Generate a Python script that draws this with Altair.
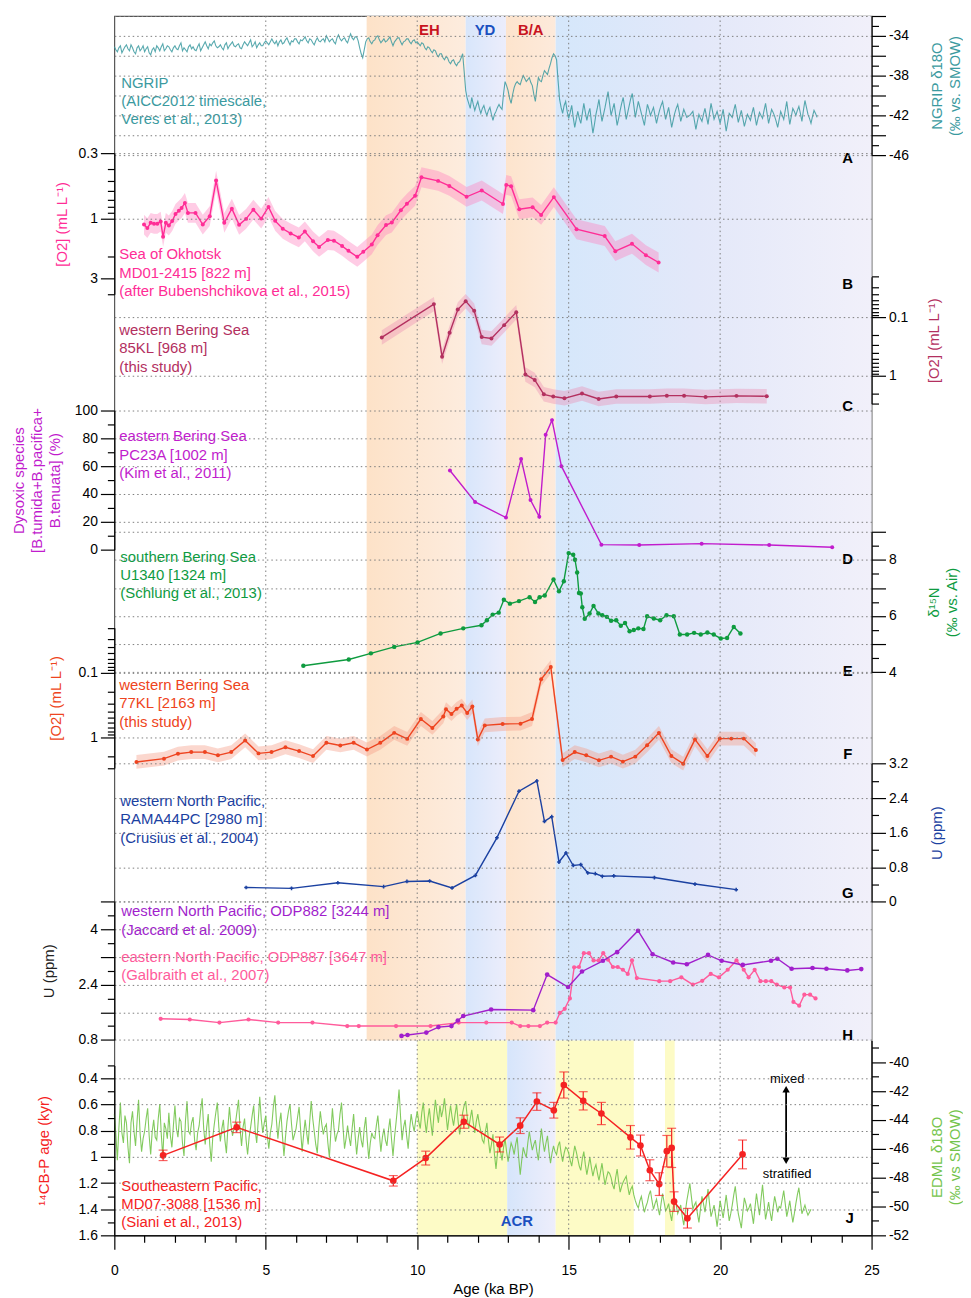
import json
import altair as alt
import pandas as pd

FONT = "Liberation Sans"
W, H = 762, 1227

# ---------------- data ----------------
# NGRIP d18O: values at 0.0, 0.1, ... ka and at the half steps 0.05, 0.15, ... ka
ngrip_step = 0.1
ngrip_d18o = [
    -35.1,-35.6,-35.0,-35.4,-34.9,-35.5,-35.2,-35.8,-35.0,-35.3,
    -35.6,-35.1,-35.9,-35.2,-35.0,-35.5,-34.8,-35.3,-35.1,-35.6,
    -35.0,-35.4,-34.7,-35.2,-35.6,-34.9,-35.1,-35.5,-34.8,-35.2,
    -34.6,-35.3,-35.0,-34.5,-35.2,-34.9,-35.4,-34.7,-35.0,-34.6,
    -35.1,-34.8,-35.3,-34.6,-35.0,-34.4,-34.9,-35.2,-34.7,-35.0,
    -34.5,-34.9,-34.3,-34.8,-35.0,-34.4,-34.7,-34.2,-34.9,-34.6,
    -34.3,-34.8,-34.5,-34.1,-34.7,-34.4,-34.9,-34.2,-34.6,-34.3,
    -34.0,-34.6,-34.3,-34.8,-33.9,-34.5,-34.2,-34.7,-33.8,-34.4,
    -34.1,-35.2,-36.2,-34.6,-34.2,-34.8,-34.4,-34.0,-34.7,-34.3,
    -34.5,-34.1,-35.0,-34.4,-34.2,-34.9,-34.5,-34.3,-34.8,-34.4,
    -34.6,-35.0,-34.8,-35.4,-35.2,-35.7,-35.5,-36.1,-35.8,-36.4,
    -36.2,-36.8,-36.4,-37.0,-36.6,-35.8,-39.5,-40.8,-40.2,-41.5,
    -40.6,-41.8,-41.0,-42.0,-41.2,-42.5,-41.6,-40.9,-41.4,-38.6,
    -39.5,-40.8,-39.2,-38.6,-38.9,-38.0,-38.6,-38.2,-39.0,-40.6,
    -38.2,-38.6,-37.5,-37.9,-36.8,-35.8,-36.4,-40.4,-41.8,-40.6,
    -42.3,-41.0,-43.2,-41.6,-42.8,-40.8,-42.5,-41.3,-43.8,-41.9,
    -40.4,-42.6,-41.2,-39.6,-42.0,-40.8,-43.0,-41.5,-40.2,-42.4,
    -41.0,-39.8,-42.2,-40.6,-41.8,-43.0,-40.9,-42.0,-41.2,-42.8,
    -41.5,-40.6,-42.4,-41.2,-43.2,-41.8,-40.9,-42.6,-41.4,-42.2,
    -42.0,-41.6,-43.4,-41.9,-42.6,-41.3,-42.9,-40.8,-42.4,-41.6,
    -42.8,-41.4,-43.6,-41.8,-42.2,-40.9,-42.7,-41.5,-43.1,-41.9,
    -42.5,-41.2,-43.0,-41.7,-42.3,-40.8,-42.8,-41.4,-42.1,-43.2,
    -41.6,-42.4,-40.6,-42.9,-41.3,-42.0,-41.1,-42.6,-40.5,-41.9,
    -42.8,-41.5,-42.2,
]
ngrip_half = [
    -35.4,-35.2,-35.7,-35.1,-35.3,-34.9,-35.6,-35.2,-35.5,-35.0,
    -35.3,-35.7,-35.4,-35.6,-35.2,-35.1,-35.5,-35.0,-35.4,-35.2,
    -35.3,-35.0,-35.5,-35.4,-35.1,-35.3,-35.4,-35.1,-35.5,-34.9,
    -35.0,-34.8,-34.7,-35.0,-35.1,-35.2,-34.9,-35.3,-34.8,-35.0,
    -34.9,-35.2,-34.9,-34.8,-34.7,-35.1,-34.6,-34.9,-35.0,-34.7,
    -34.7,-34.6,-34.6,-34.5,-34.6,-34.8,-34.4,-34.6,-34.5,-34.3,
    -34.6,-34.4,-34.3,-34.5,-34.3,-34.7,-34.5,-34.5,-34.4,-34.6,
    -34.3,-34.4,-34.6,-34.2,-34.3,-34.3,-34.5,-34.2,-34.2,-34.1,
    -34.5,-35.8,-35.4,-34.3,-34.6,-34.5,-34.1,-34.4,-34.5,-34.6,
    -34.3,-34.6,-34.6,-34.2,-34.6,-34.6,-34.3,-34.6,-34.5,-34.7,
    -34.8,-34.7,-35.2,-35.1,-35.5,-35.4,-35.9,-35.8,-36.2,-36.1,
    -36.6,-36.5,-36.8,-36.7,-36.2,-37.6,-40.3,-41.3,-40.9,-41.0,
    -41.3,-41.3,-41.6,-41.5,-41.9,-41.9,-41.2,-41.2,-39.8,-39.0,
    -40.3,-39.9,-38.8,-38.8,-38.4,-38.3,-38.4,-38.7,-39.9,-39.3,
    -38.5,-38.0,-37.7,-37.3,-36.2,-36.0,-38.5,-41.2,-41.0,-41.6,
    -41.7,-42.2,-42.4,-42.3,-41.8,-41.7,-41.8,-42.6,-42.9,-41.2,
    -41.6,-41.9,-40.4,-40.8,-41.4,-41.9,-42.3,-40.8,-41.3,-41.7,
    -40.3,-41.0,-41.4,-41.2,-42.4,-41.9,-41.4,-41.6,-42.0,-42.1,
    -41.0,-41.5,-41.8,-42.2,-42.5,-41.3,-41.7,-42.0,-41.8,-42.1,
    -41.8,-42.5,-42.6,-42.3,-41.9,-42.1,-41.8,-41.6,-42.0,-42.2,
    -42.1,-42.5,-42.7,-42.0,-41.5,-41.8,-42.1,-42.3,-42.5,-42.2,
    -41.8,-42.1,-42.3,-42.0,-41.5,-41.8,-42.1,-41.7,-42.6,-42.4,
    -42.0,-41.5,-41.8,-42.1,-41.6,-41.5,-41.8,-41.5,-41.2,-42.3,
    -42.1,-41.8,
]

# EDML d18O: values at 0.0, 0.1, ... ka and at the half steps
edml_step = 0.1
edml_d18o = [
    -43.6,-46.8,-42.8,-45.6,-44.2,-47.0,-43.4,-45.8,-42.6,-46.2,
    -44.8,-43.2,-46.4,-44.0,-45.4,-42.9,-46.6,-44.6,-43.5,-45.9,
    -43.0,-45.2,-44.1,-46.5,-42.7,-45.0,-43.8,-46.1,-44.4,-42.5,
    -45.7,-43.6,-46.9,-44.3,-42.8,-45.5,-44.0,-46.3,-43.1,-45.1,
    -44.2,-42.6,-45.8,-43.9,-46.4,-44.5,-43.0,-45.6,-42.4,-44.9,
    -43.7,-46.0,-44.3,-42.3,-45.3,-43.5,-46.5,-44.1,-42.9,-45.4,
    -44.6,-43.1,-46.2,-44.0,-45.7,-42.7,-44.8,-46.3,-43.4,-45.0,
    -44.3,-46.6,-43.2,-45.5,-44.7,-42.8,-46.0,-44.4,-45.8,-43.6,
    -46.4,-44.5,-45.9,-43.8,-46.7,-44.9,-45.3,-43.7,-46.2,-44.6,
    -45.8,-43.9,-46.5,-44.2,-41.9,-45.4,-44.0,-46.0,-43.6,-44.8,
    -43.4,-44.6,-42.8,-44.9,-43.2,-45.1,-42.6,-44.2,-43.8,-42.5,
    -44.7,-43.0,-44.4,-42.9,-45.0,-43.5,-42.7,-44.6,-43.3,-44.9,
    -43.6,-44.8,-45.6,-44.2,-46.3,-45.0,-47.4,-45.5,-46.8,-45.3,
    -46.9,-45.6,-46.4,-45.2,-47.8,-45.9,-46.6,-44.8,-46.1,-45.4,
    -46.8,-44.6,-46.2,-45.1,-47.0,-45.8,-46.4,-45.5,-46.9,-45.9,
    -46.3,-47.2,-45.8,-46.7,-47.5,-46.2,-47.8,-46.6,-47.9,-47.1,
    -48.2,-47.0,-48.5,-47.6,-48.0,-48.8,-47.4,-49.0,-48.3,-47.9,
    -49.2,-48.6,-49.6,-50.1,-49.3,-50.4,-49.7,-48.9,-50.2,-49.5,
    -50.6,-49.1,-50.3,-49.8,-51.0,-49.4,-50.5,-49.9,-51.3,-49.6,
    -48.4,-50.2,-49.7,-51.1,-49.3,-50.4,-48.8,-50.7,-49.9,-51.4,
    -49.6,-50.8,-49.2,-51.0,-49.9,-48.6,-50.5,-51.5,-49.4,-50.3,
    -49.8,-51.2,-49.1,-50.6,-48.5,-50.9,-49.7,-51.0,-49.3,-50.4,
    -50.1,-48.9,-50.7,-49.6,-51.1,-49.8,-48.7,-50.5,-49.9,-50.6,
    -50.2,
]
edml_half = [
    -45.0,-44.6,-44.9,-43.7,-45.9,-44.2,-44.8,-44.1,-44.9,-45.3,
    -43.9,-45.1,-44.8,-45.2,-43.9,-45.0,-44.2,-45.3,-45.1,-44.4,
    -44.6,-43.9,-45.6,-44.0,-44.8,-44.2,-45.4,-44.9,-43.3,-44.6,
    -44.5,-45.7,-45.2,-43.5,-44.5,-44.6,-45.4,-44.5,-44.3,-44.6,
    -43.4,-44.6,-44.5,-45.4,-45.2,-43.7,-44.7,-44.1,-43.9,-44.2,
    -45.1,-44.9,-43.1,-44.0,-44.2,-45.1,-45.2,-43.4,-44.3,-45.0,
    -43.8,-44.7,-45.0,-44.9,-44.1,-43.9,-45.7,-44.6,-44.3,-44.5,
    -45.6,-44.8,-44.5,-45.0,-43.6,-44.5,-45.3,-45.2,-44.6,-45.1,
    -45.3,-45.4,-44.6,-45.4,-45.6,-45.2,-44.4,-45.0,-45.2,-45.4,
    -44.7,-45.3,-45.2,-43.1,-43.8,-44.5,-45.1,-44.6,-44.3,-44.0,
    -44.1,-43.5,-44.0,-43.9,-44.2,-43.7,-43.5,-43.0,-43.3,-43.6,
    -43.8,-43.8,-43.6,-44.1,-44.3,-43.0,-43.8,-43.9,-44.2,-44.1,
    -44.3,-45.4,-44.8,-45.4,-45.7,-46.4,-46.3,-46.2,-45.9,-46.2,
    -46.2,-45.9,-45.7,-46.6,-46.8,-46.3,-45.6,-45.5,-45.7,-46.2,
    -45.6,-45.5,-45.6,-46.2,-46.3,-46.2,-45.8,-46.3,-46.3,-46.0,
    -46.8,-46.5,-46.2,-47.2,-46.7,-47.1,-47.2,-47.3,-47.4,-47.7,
    -47.6,-47.8,-48.0,-47.7,-48.5,-48.0,-48.3,-48.6,-48.1,-48.6,
    -48.8,-49.2,-49.9,-49.6,-49.9,-50.0,-49.2,-49.6,-49.8,-50.1,
    -49.8,-49.7,-50.1,-50.5,-50.1,-49.9,-50.2,-50.7,-50.4,-49.0,
    -49.3,-49.9,-50.5,-50.2,-49.8,-49.6,-49.8,-50.3,-50.6,-50.5,
    -50.2,-50.0,-50.1,-50.5,-49.2,-49.6,-51.0,-50.4,-49.8,-50.1,
    -50.5,-50.1,-49.9,-49.5,-49.7,-50.3,-50.4,-50.1,-49.8,-50.0,
    -49.5,-49.8,-50.2,-50.4,-50.5,-49.2,-49.6,-50.2,-50.3,-50.4,
]

okh_age = [0.98,1.09,1.20,1.31,1.42,1.53,1.61,1.70,1.80,1.91,2.02,2.13,2.22,2.33,2.43,2.68,
           2.92,3.15,3.36,3.63,3.88,4.12,4.35,4.59,4.85,5.09,5.31,5.56,5.82,6.09,6.29,6.56,
           6.76,7.05,7.25,7.52,7.73,8.02,8.22,8.50,8.69,8.97,9.16,9.46,9.66,9.93,10.14,10.69,
           11.06,11.63,12.13,12.83,12.94,13.10,13.37,13.81,14.09,14.51,15.26,16.19,16.54,17.09,
           17.55,17.97]
okh_o2 = [1.11,1.185,1.075,1.095,1.095,1.05,1.39,1.075,1.13,1.04,0.913,0.86,0.818,0.747,0.896,0.896,
          1.11,0.952,0.494,1.075,0.829,1.115,1.0,0.844,0.995,0.803,1.037,1.2,1.307,1.406,1.26,1.51,
          1.675,1.475,1.493,1.645,1.8,2.01,1.83,1.6,1.35,1.12,1.07,0.853,0.757,0.654,0.465,0.497,
          0.545,0.666,0.593,0.76,0.535,0.548,0.838,0.808,0.93,0.67,1.21,1.37,1.81,1.58,
          1.95,2.23]

kl85_age = [8.83,10.55,10.82,11.07,11.34,11.60,11.88,12.13,12.45,12.87,13.27,13.57,13.88,14.18,
            14.49,14.86,15.44,15.99,16.57,17.68,18.24,18.81,19.52,20.54,21.54]
kl85_o2 = [0.219,0.059,0.469,0.182,0.073,0.0525,0.0769,0.216,0.228,0.135,0.081,0.94,1.17,2.06,
           2.25,2.41,2.0,2.47,2.25,2.25,2.17,2.17,2.28,2.19,2.22]

pc23_age = [11.08,11.91,12.93,13.43,13.74,14.03,14.24,14.45,14.76,16.08,17.33,19.39,21.62,23.70]
pc23_pct = [56.9,34.3,23.1,65.2,35.7,23.6,82.6,93.1,60.0,3.6,3.3,4.3,3.3,1.7]

u1340_age = [6.24,7.74,8.47,9.24,10.01,10.77,11.52,12.12,12.30,12.49,12.69,12.86,13.06,13.36,
             13.71,13.89,14.04,14.21,14.50,14.68,14.84,15.00,15.15,15.21,15.28,15.34,15.40,15.45,
             15.53,15.69,15.82,15.98,16.11,16.26,16.40,16.57,16.72,16.86,17.01,17.15,17.30,17.47,
             17.59,17.81,18.02,18.23,18.47,18.67,18.91,19.14,19.36,19.58,19.79,20.02,20.23,20.45,
             20.67]
u1340_d15n = [4.23,4.45,4.67,4.90,5.06,5.38,5.56,5.67,5.85,6.05,6.12,6.58,6.44,6.53,
              6.67,6.50,6.67,6.73,7.30,6.88,7.24,8.24,8.18,8.00,7.55,6.82,6.80,6.31,
              5.90,6.09,6.36,6.09,6.03,5.97,5.83,5.85,5.65,5.75,5.46,5.50,5.56,5.54,
              5.99,5.91,5.85,6.03,5.99,5.34,5.34,5.40,5.34,5.41,5.34,5.20,5.22,5.61,
              5.38]

kl77_age = [0.73,1.64,2.10,2.54,2.99,3.42,3.86,4.32,4.76,5.19,5.65,6.10,6.56,7.00,7.46,7.90,
            8.34,8.78,9.24,9.67,10.12,10.50,10.86,10.95,11.13,11.30,11.47,11.65,11.82,12.00,
            12.23,12.82,13.41,13.79,14.09,14.41,14.80,15.20,15.58,16.00,16.40,16.79,17.20,
            17.59,17.98,18.39,18.78,19.17,19.58,19.99,20.37,20.78,21.18]
kl77_o2 = [2.42,2.15,1.80,1.70,1.70,1.91,1.70,1.12,1.78,1.70,1.43,1.64,1.96,1.22,1.34,1.22,
           1.55,1.22,0.855,1.06,0.521,0.717,0.475,0.366,0.436,0.362,0.322,0.420,0.333,1.08,
           0.654,0.622,0.615,0.521,0.126,0.081,2.26,1.70,1.91,2.28,2.00,2.39,2.00,
           1.33,0.855,1.96,2.57,1.08,1.96,1.05,1.05,1.05,1.58]

rama_age = [4.35,5.85,7.38,8.89,9.66,10.41,11.15,11.92,12.63,13.36,13.95,14.20,14.44,14.68,
            14.91,15.15,15.40,15.63,15.88,16.11,16.49,17.83,19.17,20.53]
rama_u = [0.33,0.31,0.44,0.35,0.47,0.48,0.32,0.61,1.48,2.56,2.80,1.86,1.97,0.92,
          1.13,0.84,0.86,0.67,0.65,0.59,0.60,0.56,0.41,0.28]

odp882_age = [9.48,9.68,10.30,10.70,11.13,11.34,11.52,12.44,13.83,14.29,14.98,15.44,16.13,16.60,
              17.29,17.77,18.45,18.90,19.60,20.05,20.75,21.68,21.89,22.36,23.05,23.51,24.20,24.66]
odp882_u = [0.915,0.94,1.01,1.17,1.20,1.36,1.49,1.68,1.66,2.69,2.33,2.78,3.09,3.34,
            3.96,3.28,3.04,2.99,3.26,3.09,2.97,3.09,3.15,2.86,2.88,2.86,2.81,2.85]

odp887_age = [1.53,2.49,3.47,4.43,5.41,6.54,7.69,8.07,9.30,10.44,11.37,12.28,13.12,13.40,13.67,
              14.05,14.29,14.57,14.71,14.87,15.04,15.18,15.34,15.50,15.67,15.82,15.99,16.14,16.30,
              16.46,16.62,16.79,16.95,17.09,17.25,17.99,18.35,18.72,19.10,19.41,19.69,19.96,20.25,
              20.54,20.78,20.94,21.14,21.33,21.51,21.69,21.87,22.12,22.31,22.42,22.61,22.78,22.97,
              23.15]
odp887_u = [1.41,1.39,1.30,1.39,1.30,1.30,1.20,1.20,1.20,1.20,1.30,1.30,1.30,1.20,1.20,
            1.20,1.30,1.30,1.58,1.70,2.00,2.90,2.91,3.31,3.31,3.10,3.10,3.31,3.12,
            2.91,2.91,2.83,2.71,3.10,2.59,2.50,2.50,2.61,2.40,2.51,2.71,2.61,2.83,
            3.10,2.83,2.61,2.83,2.50,2.50,2.50,2.40,2.32,2.32,1.90,1.79,2.11,2.11,
            2.00]

md07_age = [1.61,4.04,9.21,10.28,11.54,12.72,13.40,13.95,14.51,14.84,15.48,16.08,17.04,17.37,
            17.68,17.99,18.24,18.40,18.48,18.92,20.74]
md07_bp = [0.988,0.774,1.183,1.009,0.731,0.905,0.761,0.577,0.643,0.450,0.571,0.668,0.850,0.913,
           1.102,1.208,0.956,0.931,1.342,1.469,0.981]
md07_err = [0.04,0.04,0.04,0.053,0.05,0.057,0.06,0.067,0.06,0.10,0.07,0.085,0.09,0.08,
            0.08,0.087,0.12,0.15,0.075,0.075,0.11]

# climate intervals (ka BP)
upper_band_start = [8.33, 11.6, 12.93, 14.57]
upper_band_end = [11.6, 12.93, 14.57, 25.0]
lower_band_start = [10.0, 12.97, 14.57, 18.18]
lower_band_end = [12.97, 14.57, 17.15, 18.5]

# vertical grid positions on the age axis (ka)
age_grid = [5, 10, 15, 20]

# ---------------- styling ----------------
TEAL = "#3b9aa0"; OKH = "#ff2d96"; KL85 = "#b3305f"; PC23 = "#c11ccd"; U1340 = "#0e9b3f"
KL77 = "#ee4420"; RAMA = "#1b41a1"; O882 = "#a11fcc"; O887 = "#ff5b9b"; MD07 = "#f52222"
EDML = "#74c44c"
GRID = dict(gridDash=[1.5, 3], gridColor="#7d7d7d", gridWidth=1)

XS = alt.Scale(domain=[0, 25], nice=False, zero=False)


def inset(vals):
    return "indexof(%s, datum.value) >= 0" % json.dumps(vals)


def make_axis(orient, title, color, ticks, long_set, label_set, grid_set, title_x, title_y=None):
    ax = dict(
        orient=orient, title=title, titleColor=color, values=ticks,
        labelExpr="(%s) ? toString(datum.value) : ''" % inset(label_set),
        tickSize={"condition": {"test": inset(long_set), "value": 14}, "value": 7},
        grid=True,
        gridOpacity={"condition": {"test": inset(grid_set), "value": 1}, "value": 0},
        domainColor="black", tickColor="black", domainWidth=1.2, tickWidth=1.2,
        labelColor="black", labelFontSize=14, labelPadding=3, labelFont=FONT,
        titleFont=FONT, titleFontSize=15, titleFontWeight="normal",
        titleAngle=270, titleBaseline="top", titleAlign="center", titleLineHeight=18,
        titleX=title_x, zindex=1, labelFlush=False, labelOverlap=False, **GRID,
    )
    if title_y is not None:
        ax["titleY"] = title_y
    return alt.Axis(**ax)


def rng(a, b, step):
    out, k = [], 0
    while True:
        v = round(a + k * step, 3)
        if v > b + 1e-9:
            break
        out.append(int(v) if float(v).is_integer() else v)
        k += 1
    return out


log_ticks = [0.02, 0.03, 0.04, 0.05, 0.06, 0.07, 0.08, 0.09, 0.1, 0.2, 0.3, 0.4, 0.5, 0.6,
             0.7, 0.8, 0.9, 1, 2, 3]

ax_A = make_axis("right", ["NGRIP δ18O", "(‰ vs. SMOW)"], TEAL, rng(-46, -32, 1),
                 rng(-46, -32, 2), [-46, -42, -38, -34], rng(-46, -32, 2), 58)
ax_B = make_axis("left", "[O2] (mL L⁻¹)", OKH, [0.3, 0.4, 0.5, 0.6, 0.7, 0.8, 0.9, 1, 2, 3, 4],
                 [0.3, 1, 3], [0.3, 1, 3], [0.3, 1], -60)
ax_C = make_axis("right", "[O2] (mL L⁻¹)", KL85, log_ticks, [0.1, 1], [0.1, 1], [0.1, 1], 55)
ax_D = make_axis("left", ["Dysoxic species", "[B.tumida+B.pacifica+", "B.tenuata] (%)"], PC23,
                 rng(0, 100, 10), rng(0, 100, 20), rng(0, 100, 20), rng(20, 100, 20), -103)
ax_E = make_axis("right", ["δ¹⁵N", "(‰ vs. Air)"], U1340, rng(4, 9, 0.5), rng(4, 9, 1),
                 [4, 6, 8], rng(4, 9, 1), 55)
ax_F = make_axis("left", "[O2] (mL L⁻¹)", KL77, log_ticks, [0.1, 1], [0.1, 1], [0.1, 1], -66)
ax_G = make_axis("right", "U (ppm)", RAMA, rng(0, 3.2, 0.4), rng(0, 3.2, 0.8),
                 rng(0, 3.2, 0.8), rng(0, 3.2, 0.8), 58)
ax_H = make_axis("left", "U (ppm)", "#222222", rng(0.8, 4.8, 0.4), rng(0.8, 4.8, 0.8),
                 [0.8, 2.4, 4], rng(0.8, 4.8, 0.8), -73)
ax_J1 = make_axis("left", "¹⁴CB-P age (kyr)", MD07, rng(0.3, 1.6, 0.1), rng(0.4, 1.6, 0.2),
                  rng(0.4, 1.6, 0.2), rng(0.4, 1.4, 0.2), -78)
ax_J2 = make_axis("right", ["EDML δ18O", "(‰ vs SMOW)"], EDML, rng(-52, -39, 1),
                  rng(-52, -40, 2), rng(-52, -40, 2), [], 58, 1148)

x_axis = alt.Axis(
    title="Age (ka BP)", values=list(range(26)),
    labelExpr="datum.value % 5 == 0 ? toString(datum.value) : ''",
    tickSize={"condition": {"test": "datum.value % 5 == 0", "value": 14}, "value": 7},
    grid=False,
    domainColor="black", tickColor="black", domainWidth=1.2, tickWidth=1.2,
    labelColor="black", labelFontSize=14, labelPadding=14, labelFont=FONT, labelFlush=False,
    titleFont=FONT, titleFontSize=15, titleFontWeight="normal", titlePadding=5, zindex=1,
)

# panel y scales: (type, domain, pixel range inside the plot)
S = {
    "A": ("linear", [-46, -32], [140, 0]),
    "B": ("log", [0.3, 4], [138.3, 280]),
    "C": ("log", [0.02, 3], [262.3, 390.3]),
    "D": ("linear", [0, 100], [537, 397]),
    "E": ("linear", [4, 9], [660.3, 519]),
    "F": ("log", [0.02, 3], [615.7, 756.7]),
    "G": ("linear", [0, 3.2], [891.3, 752.3]),
    "H": ("linear", [0.8, 4.8], [1030.3, 891.3]),
    "J1": ("linear", [0.3, 1.6], [1056, 1227]),
    "J2": ("linear", [-52, -38.5], [1227, 1031]),
}


def ys(key):
    t, d, r = S[key]
    if t == "log":
        return alt.Scale(type="log", domain=d, range=r, nice=False)
    return alt.Scale(domain=d, range=r, nice=False, zero=False)


def X(field):
    return alt.X(field, type="quantitative", scale=XS, axis=x_axis)


def grad(stops):
    return alt.LinearGradient(
        gradient="linear", x1=0, x2=1, y1=0, y2=0,
        stops=[alt.GradientStop(color=c, offset=o) for o, c in stops])


layers = []

# background bands
bands_up = pd.DataFrame({"start": upper_band_start, "end": upper_band_end})
up_grads = [
    [(0, "#fde2c8"), (1, "#fdecde")],
    [(0, "#d8e6fb"), (1, "#ecedfb")],
    [(0, "#fde4cd"), (1, "#fdeadb")],
    [(0, "#d5e7fb"), (0.45, "#e3e8f9"), (1, "#f1f0fa")],
]
for i, g in enumerate(up_grads):
    layers.append(
        alt.Chart(bands_up.iloc[[i]]).mark_rect(color=grad(g), strokeWidth=0).encode(
            x=X("start"), x2="end", y=alt.value(0), y2=alt.value(1031)))
bands_lo = pd.DataFrame({"start": lower_band_start, "end": lower_band_end})
lo_grads = [
    [(0, "#fdfbc6"), (1, "#fdfbc6")],
    [(0, "#d6e5fb"), (1, "#eeeefb")],
    [(0, "#fdfbc6"), (1, "#fdfbc6")],
    [(0, "#fdfbc6"), (1, "#fdfbc6")],
]
for i, g in enumerate(lo_grads):
    layers.append(
        alt.Chart(bands_lo.iloc[[i]]).mark_rect(color=grad(g), strokeWidth=0).encode(
            x=X("start"), x2="end", y=alt.value(1031), y2=alt.value(1227)))

# vertical dotted grid lines of the age axis
layers.append(
    alt.Chart(pd.DataFrame({"g": age_grid})).mark_rule(
        color="#7d7d7d", strokeWidth=1, strokeDash=[1.5, 3]).encode(
        x=X("g"), y=alt.value(0), y2=alt.value(H)))

# ice-core records
ngrip = pd.DataFrame({
    "age": [round(i * ngrip_step, 2) for i in range(len(ngrip_d18o))]
    + [round(i * ngrip_step + ngrip_step / 2, 3) for i in range(len(ngrip_half))],
    "v": ngrip_d18o + ngrip_half}).sort_values("age")
edml = pd.DataFrame({
    "age": [round(i * edml_step, 2) for i in range(len(edml_d18o))]
    + [round(i * edml_step + edml_step / 2, 3) for i in range(len(edml_half))],
    "v": edml_d18o + edml_half}).sort_values("age")
layers.append(alt.Chart(edml).mark_line(color=EDML, strokeWidth=1.1, opacity=0.9).encode(
    x=X("age"), y=alt.Y("v:Q", scale=ys("J2"), axis=ax_J2)))
layers.append(alt.Chart(ngrip).mark_line(color=TEAL, strokeWidth=1.1, opacity=0.85).encode(
    x=X("age"), y=alt.Y("v:Q", scale=ys("A"), axis=ax_A)))


def series(age, vals, key, color, axis, band=None, band_color=None, size=16, shape="circle"):
    df = pd.DataFrame({"age": age, "v": vals})
    out = []
    if band:
        out.append(alt.Chart(df).transform_calculate(
            lo="datum.v / %s" % band, hi="datum.v * %s" % band
        ).mark_area(color=band_color, opacity=0.4).encode(
            x=X("age"), y=alt.Y("lo:Q", scale=ys(key), axis=None), y2="hi:Q"))
    out.append(alt.Chart(df).mark_line(color=color, strokeWidth=1.4).encode(
        x=X("age"), y=alt.Y("v:Q", scale=ys(key), axis=axis)))
    out.append(alt.Chart(df).mark_point(color=color, filled=True, size=size, shape=shape,
                                        opacity=1).encode(
        x=X("age"), y=alt.Y("v:Q", scale=ys(key), axis=None)))
    return out


layers += series(okh_age, okh_o2, "B", OKH, ax_B, band=1.2, band_color="#ff7fbf")
layers += series(kl85_age, kl85_o2, "C", KL85, ax_C, band=1.33, band_color="#ec8fb5")
layers += series(pc23_age, pc23_pct, "D", PC23, ax_D)
layers += series(u1340_age, u1340_d15n, "E", U1340, ax_E, size=20)
layers += series(kl77_age, kl77_o2, "F", KL77, ax_F, band=1.28, band_color="#f59a84")
layers += series(rama_age, rama_u, "G", RAMA, ax_G, size=14, shape="cross")
layers += series(odp887_age, odp887_u, "H", O887, None, size=18)
layers += series(odp882_age, odp882_u, "H", O882, ax_H, size=22)

md = pd.DataFrame({"age": md07_age, "v": md07_bp, "e": md07_err})
md_lohi = alt.Chart(md).transform_calculate(lo="datum.v - datum.e", hi="datum.v + datum.e")
layers.append(md_lohi.mark_rule(color=MD07, strokeWidth=1.2).encode(
    x=X("age"), y=alt.Y("lo:Q", scale=ys("J1"), axis=None), y2="hi:Q"))
for f in ["lo", "hi"]:
    layers.append(md_lohi.mark_tick(color=MD07, orient="horizontal", size=9, thickness=1.2).encode(
        x=X("age"), y=alt.Y(f + ":Q", scale=ys("J1"), axis=None)))
layers.append(alt.Chart(md).mark_line(color=MD07, strokeWidth=1.5).encode(
    x=X("age"), y=alt.Y("v:Q", scale=ys("J1"), axis=ax_J1)))
layers.append(alt.Chart(md).mark_point(color=MD07, filled=True, size=45, opacity=1).encode(
    x=X("age"), y=alt.Y("v:Q", scale=ys("J1"), axis=None)))

# ---------------- text ----------------
dummy = pd.DataFrame({"k": [0]})


def txt(lines, x, y, color, size=15, weight="normal", align="left", baseline="top"):
    return alt.Chart(dummy).mark_text(
        text=lines, align=align, baseline=baseline, fontSize=size, fontWeight=weight,
        color=color, font=FONT, lineHeight=18.5).encode(x=alt.value(x), y=alt.value(y))


layers += [
    txt(["NGRIP", "(AICC2012 timescale,", "Veres et al., 2013)"], 7, 60, TEAL),
    txt(["Sea of Okhotsk", "MD01-2415 [822 m]", "(after Bubenshchikova et al., 2015)"], 5, 233, OKH),
    txt(["western Bering Sea", "85KL [968 m]", "(this study)"], 5, 309, KL85),
    txt(["eastern Bering Sea", "PC23A [1002 m]", "(Kim et al., 2011)"], 5, 416, PC23),
    txt(["southern Bering Sea", "U1340 [1324 m]", "(Schlung et al., 2013)"], 6, 537, U1340),
    txt(["western Bering Sea", "77KL [2163 m]", "(this study)"], 5, 666, KL77),
    txt(["western North Pacific,", "RAMA44PC [2980 m]", "(Crusius et al., 2004)"], 6, 783, RAMA),
    txt(["western North Pacific, ODP882 [3244 m]", "(Jaccard et al. 2009)"], 7, 894, O882),
    txt(["eastern North Pacific, ODP887 [3647 m]", "(Galbraith et al., 2007)"], 7, 940, O887),
    txt(["Southeastern Pacific,", "MD07-3088 [1536 m]", "(Siani et al., 2013)"], 7, 1170, MD07),
    txt("mixed", 677, 1070, "black", size=13, align="center", baseline="middle"),
    txt("stratified", 677, 1165, "black", size=13, align="center", baseline="middle"),
    txt("EH", 317, 14, "#c8141e", weight="bold", align="center", baseline="middle"),
    txt("YD", 373, 14, "#1a50c0", weight="bold", align="center", baseline="middle"),
    txt("B/A", 419, 14, "#c8141e", weight="bold", align="center", baseline="middle"),
    txt("ACR", 405, 1213, "#1a50c0", weight="bold", align="center", baseline="middle"),
]
for letter, (lx, ly) in {"A": (738, 143), "B": (738, 270), "C": (738, 392), "D": (738, 546),
                         "E": (738, 659), "F": (738, 743), "G": (738, 883), "H": (738, 1025),
                         "J": (740, 1210)}.items():
    layers.append(txt(letter, lx, ly, "black", weight="bold", align="center", baseline="middle"))

# double arrow (mixed / stratified)
layers.append(alt.Chart(dummy).mark_rule(color="black", strokeWidth=1.8).encode(
    x=alt.value(676), y=alt.value(1082), y2=alt.value(1150)))
layers.append(alt.Chart(dummy).mark_point(shape="triangle-up", filled=True, size=55,
                                          color="black", opacity=1).encode(
    x=alt.value(676), y=alt.value(1080)))
layers.append(alt.Chart(dummy).mark_point(shape="triangle-down", filled=True, size=55,
                                          color="black", opacity=1).encode(
    x=alt.value(676), y=alt.value(1152)))

chart = alt.layer(*layers).resolve_scale(y="independent").properties(
    width=W, height=H,
    autosize=alt.AutoSizeParams(type="none"),
    padding={"left": 107, "top": 4, "right": 92, "bottom": 58},
).configure(font=FONT).configure_view(stroke="#555555", strokeWidth=1.2)

chart.save("out.html", embed_options={"renderer": "svg", "actions": False})
